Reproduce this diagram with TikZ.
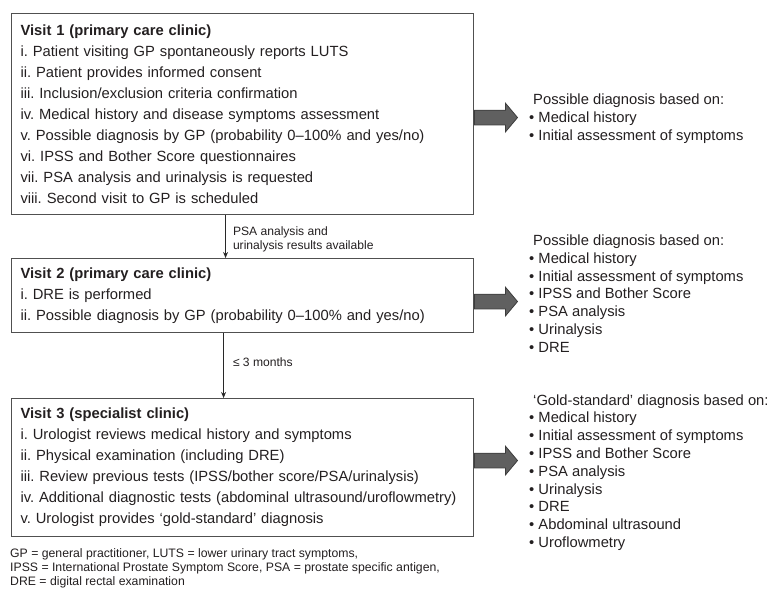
\documentclass[tikz,border=0pt]{standalone}
\usepackage{fontspec}
\setmainfont{Liberation Sans}
\usetikzlibrary{arrows.meta,shapes.arrows}
\frenchspacing

\begin{document}
\begin{tikzpicture}[x=1pt,y=-1pt,
  visitbox/.style={draw=boxcolor,line width=1.1pt,anchor=north west,align=left,
    inner xsep=9pt,inner ysep=0pt,text width=444pt,text=textcolor,
    font=\fontsize{14.75}{21}\selectfont},
  blockarrow/.style={single arrow,draw=arrowline,fill=arrowfill,line width=0.8pt,
    minimum height=43pt,single arrow head extend=7pt,inner xsep=0pt,inner ysep=7pt,
    single arrow tip angle=100,anchor=tail},
  listtext/.style={anchor=west,align=left,inner sep=0pt,text=textcolor,
    font=\fontsize{14.75}{17.8}\selectfont},
  notetext/.style={anchor=west,align=left,inner sep=0pt,text=textcolor,
    font=\fontsize{12.1}{14}\selectfont},
  flow/.style={draw=flowcolor,line width=0.9pt,-{Stealth[length=6pt,width=5pt]}}]
\definecolor{boxcolor}{RGB}{80,80,80}
\definecolor{textcolor}{RGB}{35,31,32}
\definecolor{flowcolor}{RGB}{40,40,40}
\definecolor{arrowfill}{RGB}{96,96,96}
\definecolor{arrowline}{RGB}{60,60,60}
\useasboundingbox (0,0) rectangle (767,589);
% visit boxes
\node[visitbox,minimum height=201pt] (v1) at (11,13) {\textbf{Visit 1 (primary care clinic)}\\
i. Patient visiting GP spontaneously reports LUTS\\
ii. Patient provides informed consent\\
iii. Inclusion/exclusion criteria confirmation\\
iv. Medical history and disease symptoms assessment\\
v. Possible diagnosis by GP (probability 0–100\% and yes/no)\\
vi. IPSS and Bother Score questionnaires\\
vii. PSA analysis and urinalysis is requested\\
viii. Second visit to GP is scheduled};
\node[visitbox,minimum height=74pt] (v2) at (11,258) {\textbf{Visit 2 (primary care clinic)}\\
i. DRE is performed\\
ii. Possible diagnosis by GP (probability 0–100\% and yes/no)};
\node[visitbox,minimum height=138pt] (v3) at (11,398) {\textbf{Visit 3 (specialist clinic)}\\
i. Urologist reviews medical history and symptoms\\
ii. Physical examination (including DRE)\\
iii. Review previous tests (IPSS/bother score/PSA/urinalysis)\\
iv. Additional diagnostic tests (abdominal ultrasound/uroflowmetry)\\
v. Urologist provides ‘gold-standard’ diagnosis};
% flow between visits
\draw[flow] ([xshift=-17pt]v1.south) -- ([xshift=-17pt]v2.north)
  node[notetext,pos=0.57,xshift=7pt] (l1) {PSA analysis and\\urinalysis results available};
\draw[flow] ([xshift=-19pt]v2.south) -- ([xshift=-19pt]v3.north)
  node[notetext,pos=0.45,xshift=9pt] (l2) {≤ 3 months};
% block arrows
\node[blockarrow] (a1) at ([yshift=-3.5pt]v1.east) {};
\node[blockarrow] (a2) at ([yshift=-6pt]v2.east) {};
\node[blockarrow] (a3) at ([yshift=7pt]v3.east) {};
% diagnosis lists
\node[listtext] (d1) at ([xshift=11pt,yshift=-1pt]a1.tip) {\hspace*{4pt}Possible diagnosis based on:\\
• Medical history\\
• Initial assessment of symptoms};
\node[listtext] (d2) at ([xshift=11pt,yshift=8pt]a2.tip) {\hspace*{4pt}Possible diagnosis based on:\\
• Medical history\\
• Initial assessment of symptoms\\
• IPSS and Bother Score\\
• PSA analysis\\
• Urinalysis\\
• DRE};
\node[listtext] (d3) at ([xshift=11pt,yshift=-12pt]a3.tip) {\hspace*{4pt}‘Gold-standard’ diagnosis based on:\\
• Medical history\\
• Initial assessment of symptoms\\
• IPSS and Bother Score\\
• PSA analysis\\
• Urinalysis\\
• DRE\\
• Abdominal ultrasound\\
• Uroflowmetry};
% abbreviations
\node[notetext,anchor=north west,font=\fontsize{12.25}{14.2}\selectfont] (fn) at ([xshift=-1pt,yshift=-11pt]v3.south west) {GP = general practitioner, LUTS = lower urinary tract symptoms,\\
IPSS = International Prostate Symptom Score, PSA = prostate specific antigen,\\
DRE = digital rectal examination};
\end{tikzpicture}
\end{document}
